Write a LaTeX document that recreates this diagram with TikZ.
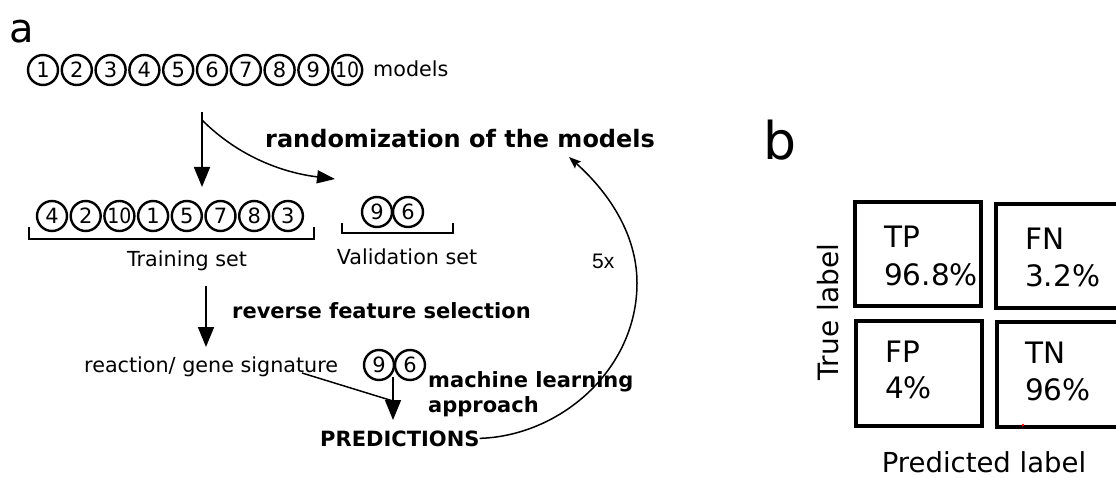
\documentclass[tikz,border=0pt]{standalone}
\usepackage{fontspec}
\setmainfont{DejaVu Sans}
\newfontfamily\countfont{Liberation Sans}
\usetikzlibrary{arrows.meta}
\newcommand\modelnum[1]{\ifnum#1>9 \makebox[0pt]{\scalebox{0.9}[1]{#1}}\else #1\fi}
\begin{document}
\begin{tikzpicture}[x=1pt,y=-1pt,
  model/.style={circle, draw, line width=2.4pt, minimum size=30pt, inner sep=0pt,
    font=\fontsize{21}{21}\selectfont},
  plain/.style={inner sep=0pt, font=\fontsize{20.7}{24}\selectfont},
  heading/.style={inner sep=0pt, font=\fontsize{21}{25}\selectfont\bfseries},
  panel/.style={inner sep=0pt, anchor=base west},
  flow/.style={line width=1.7pt, -{Triangle[length=20pt,width=16pt]}},
  curvearrow/.style={line width=1.5pt, -{Triangle[length=18pt,width=13pt]}},
  looparrow/.style={line width=1.5pt, -{Stealth[length=12pt,width=9pt,inset=2pt]}},
  bracket/.style={line width=2.2pt},
  cell/.style={draw, line width=4pt},
  celltext/.style={inner sep=0pt, anchor=base west, font=\fontsize{29.5}{35}\selectfont},
  axis/.style={inner sep=0pt, font=\fontsize{28}{34}\selectfont}]
\fill[white] (0,0) rectangle (1116,478);
\useasboundingbox (0,0) rectangle (1116,478);

% ---------------- panel a ----------------
\node[panel, font=\fontsize{40}{48}\selectfont] (la) at (9,43) {a};

% all ten models
\foreach \n [count=\i from 0] in {1,2,3,4,5,6,7,8,9,10} {
  \node[model] (m\n) at (43+33.8*\i,70) {\modelnum{\n}};
}
\node[plain, anchor=base west] (models) at (373,77) {models};

% randomization step
\coordinate (split) at (202,112);
\coordinate (trainIn) at (202,187);
\coordinate (bendFrom) at (202,120);
\coordinate (validIn) at (335,179);
\draw[flow] (split) -- (trainIn);
\draw[curvearrow] (bendFrom) .. controls (240,158) and (285,173) .. (validIn);
\node[heading, anchor=base west, font=\fontsize{24}{28}\selectfont\bfseries] (rand) at (265,148)
  {randomization of the models};

% training set
\foreach \n [count=\i from 0] in {4,2,10,1,5,7,8,3} {
  \node[model] (t\i) at (52+33.7*\i,216) {\modelnum{\n}};
}
\draw[bracket] (29,227) -- (29,239) -- (314,239) -- (314,227);
\node[plain, anchor=base] (train) at (187,267) {Training set};

% validation set
\node[model] (v9) at (377,212) {9};
\node[model] (v6) at (408,212) {6};
\draw[bracket] (342,223) -- (342,233) -- (453,233) -- (453,223);
\node[plain, anchor=base] (valid) at (407,265) {Validation set};

% feature selection
\coordinate (selFrom) at (206,286);
\coordinate (selTo) at (206,347);
\draw[flow] (selFrom) -- (selTo);
\node[heading, anchor=base west] (rfs) at (232,319) {reverse feature selection};
\node[plain, anchor=base west] (sig) at (84,372) {reaction/ gene signature};

% prediction on the held-out models
\node[model] (p9) at (379,365) {9};
\node[model] (p6) at (410,365) {6};
\coordinate (sigOut) at (302,373);
\coordinate (meet) at (393,401);
\coordinate (mlFrom) at (393,377);
\coordinate (mlTo) at (393,420);
\draw[line width=1.5pt] (sigOut) -- (meet);
\draw[flow, line width=1.5pt] (mlFrom) -- (mlTo);
\node[heading, anchor=base west] (mlA) at (428,387) {machine learning};
\node[heading, anchor=base west] (mlB) at (428,412) {approach};
\node[heading, anchor=base west] (pred) at (320,446) {PREDICTIONS};

% repeat loop
\coordinate (loopTop) at (569,157);
\draw[looparrow] (pred.east) .. controls (560,436) and (637,370) .. (637,283)
  .. controls (637,232) and (606,190) .. (loopTop);
\node[panel, font=\countfont\fontsize{21}{25}\selectfont] (rep) at (592,269) {5x};

% ---------------- panel b ----------------
\node[panel, font=\fontsize{52}{60}\selectfont] (lb) at (763,160) {b};

\begin{scope}
\clip (0,0) rectangle (1116,478);
\draw[cell] (855,202) rectangle (981,306);
\draw[cell] (996,204) rectangle (1135,308);
\draw[cell] (856,321) rectangle (982,426);
\draw[cell] (997,322) rectangle (1135,427);
\end{scope}
\fill[red] (1023,425) circle (1.3);

\node[celltext] (tp) at (884,248) {TP};
\node[celltext] (tpv) at (884,286) {96.8\%};
\node[celltext] (fn) at (1025,250) {FN};
\node[celltext] (fnv) at (1025,287) {3.2\%};
\node[celltext] (fp) at (885,362) {FP};
\node[celltext] (fpv) at (885,398) {4\%};
\node[celltext] (tn) at (1025,363) {TN};
\node[celltext] (tnv) at (1025,400) {96\%};

\node[axis, rotate=90, anchor=base] (truel) at (838,312) {True label};
\node[axis, anchor=base, font=\fontsize{27.5}{33}\selectfont] (predl) at (984,472) {Predicted label};
\end{tikzpicture}
\end{document}
